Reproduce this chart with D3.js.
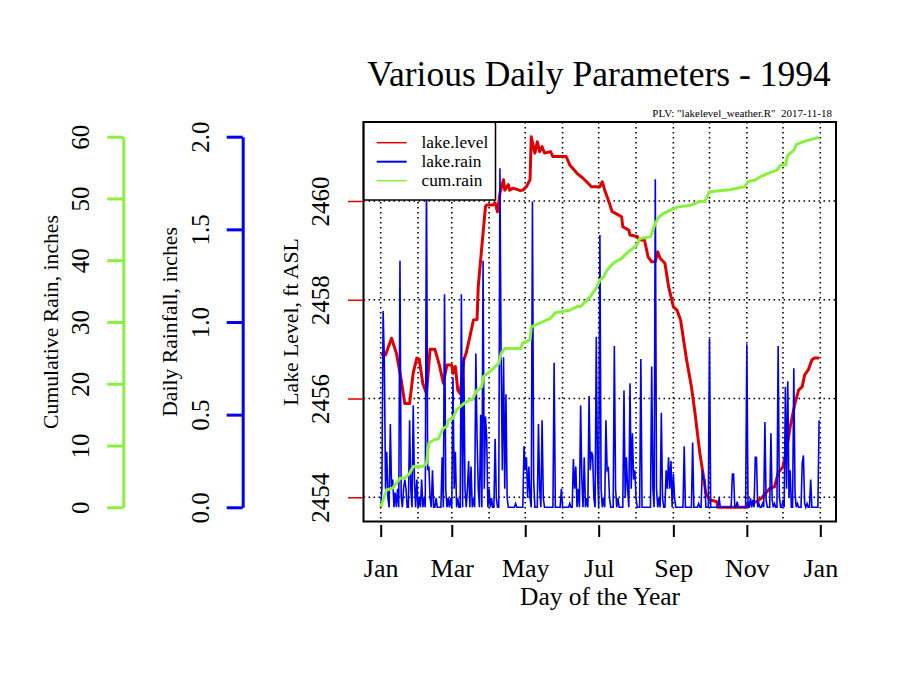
<!DOCTYPE html>
<html><head><meta charset="utf-8">
<script src="https://cdn.jsdelivr.net/npm/d3@7"></script>
<style>body{margin:0;background:#fff}</style>
</head><body>
<svg id="c" width="900" height="675"></svg>
<script>
// ---------------- DATA ----------------
const titleText = "Various Daily Parameters - 1994";
const subtitleText = 'PLV: "lakelevel_weather.R"  2017-11-18';
const xTickMonths = [0, 2, 4, 6, 8, 10, 12];
const xTickLabels = ["Jan", "Mar", "May", "Jul", "Sep", "Nov", "Jan"];
const gridMonths = [0,1,2,3,4,5,6,7,8,9,10,11,12];
const lakeTicks = [2454, 2456, 2458, 2460];
const rainTicks = [0, 0.5, 1, 1.5, 2];
const cumTicks = [0, 10, 20, 30, 40, 50, 60];
const legendLabels = ["lake.level", "lake.rain", "cum.rain"];
const xLabel = "Day of the Year";
const lakeLabel = "Lake Level, ft ASL";
const rainLabel = "Daily Rainfall, inches";
const cumLabel = "Cumulative Rain, inches";

// lake level: [day of year (0 = Jan 1), ft ASL]
const lakeLevel = [[0,2456.90],[4,2456.88],[9,2457.22],[13,2456.92],[17,2456.38],[20,2455.90],[24,2455.90],[27,2456.52],[30,2456.82],[32,2456.80],[35,2456.30],[38,2456.10],[41,2457.00],[45,2457.00],[49,2456.65],[52,2456.31],[55,2456.68],[59,2456.68],[60,2456.51],[62,2456.65],[64,2456.17],[66,2456.10],[69,2456.78],[71,2456.92],[74,2457.25],[77,2457.59],[80,2457.60],[81,2458.27],[84,2459.08],[87,2459.89],[88,2459.92],[93,2459.92],[95,2459.96],[97,2459.78],[99,2460.16],[102,2460.43],[103,2460.22],[106,2460.33],[107,2460.22],[110,2460.26],[116,2460.21],[118,2460.22],[121,2460.29],[124,2460.43],[125,2461.30],[128,2460.97],[130,2461.20],[132,2461.00],[134,2461.10],[136,2460.97],[141,2461.00],[143,2460.90],[154,2460.90],[157,2460.73],[163,2460.56],[168,2460.46],[171,2460.39],[175,2460.29],[182,2460.29],[184,2460.39],[186,2460.22],[190,2459.95],[192,2459.79],[195,2459.75],[200,2459.68],[201,2459.48],[206,2459.41],[207,2459.31],[213,2459.28],[215,2459.21],[219,2459.21],[222,2458.87],[225,2458.77],[228,2458.77],[230,2458.97],[232,2458.84],[236,2458.74],[239,2458.27],[243,2457.86],[246,2457.79],[249,2457.59],[254,2456.78],[258,2456.24],[261,2455.70],[265,2454.89],[268,2454.42],[270,2454.08],[273,2453.95],[279,2453.91],[280,2453.80],[304,2453.80],[305,2453.88],[312,2453.91],[316,2453.98],[323,2454.18],[327,2454.21],[330,2454.49],[334,2454.62],[337,2454.96],[340,2455.43],[344,2455.90],[347,2456.17],[350,2456.24],[352,2456.48],[355,2456.58],[358,2456.78],[360,2456.82],[364,2456.82]];

// daily rain on days with rain: [day, inches]; all other days are 0
const rainDays = [[1,0.1],[2,1.06],[3,0.8],[4,0.1],[5,0.3],[6,0.05],[8,0.45],[9,0.1],[10,0.15],[12,0.08],[14,0.1],[16,1.33],[17,0.06],[19,0.1],[20,0.15],[21,0.1],[24,0.47],[25,0.1],[27,0.55],[28,0.15],[30,0.15],[32,0.05],[34,0.15],[36,0.05],[38,1.8],[39,0.2],[40,0.22],[41,0.05],[43,0.2],[46,0.05],[51,0.27],[53,1.15],[54,0.1],[56,0.05],[58,0.05],[60,0.7],[61,0.1],[62,0.3],[64,0.05],[67,1.15],[69,0.81],[70,0.1],[72,0.1],[73,0.25],[75,0.22],[77,0.05],[79,0.83],[80,0.38],[81,0.1],[83,0.5],[85,1.33],[86,0.1],[87,0.49],[88,0.38],[90,0.1],[92,0.05],[95,0.37],[96,0.05],[99,1.83],[100,0.8],[101,0.2],[102,0.81],[103,0.1],[104,0.61],[105,0.05],[112,0.02],[119,0.33],[120,0.2],[121,0.27],[122,0.05],[123,0.22],[124,0.05],[126,1.65],[127,0.15],[131,0.45],[132,0.1],[134,0.47],[135,0.05],[144,0.78],[150,0.1],[157,0.02],[160,0.26],[161,0.1],[162,0.22],[164,0.1],[166,0.55],[167,0.15],[169,0.27],[171,0.05],[173,0.6],[174,0.2],[175,0.3],[176,0.28],[177,0.05],[179,0.92],[180,0.2],[182,1.47],[183,0.1],[185,0.05],[187,0.47],[188,0.2],[189,0.21],[190,0.05],[194,0.87],[195,0.1],[197,0.05],[202,0.63],[203,0.05],[204,0.27],[205,0.1],[207,0.67],[208,0.1],[209,0.4],[210,0.15],[211,0.2],[212,0.05],[216,0.8],[225,0.76],[226,0.1],[228,1.77],[229,0.1],[231,0.05],[233,0.51],[234,0.05],[237,0.2],[238,0.1],[239,0.27],[240,0.1],[241,0.25],[243,0.18],[244,0.05],[252,0.33],[259,0.35],[264,0.02],[267,0.2],[268,0.15],[269,0.15],[273,0.91],[281,0.05],[292,0.18],[293,0.18],[296,0.03],[304,0.88],[307,0.05],[309,0.04],[311,0.27],[312,0.27],[314,0.02],[317,0.02],[319,0.46],[320,0.04],[324,0.4],[325,0.04],[327,0.02],[330,0.87],[331,0.06],[334,0.04],[336,0.65],[337,0.1],[338,0.68],[339,0.05],[340,0.2],[343,0.75],[344,0.08],[346,0.02],[350,0.24],[351,0.28],[352,0.02],[354,0.02],[357,0.15],[364,0.47]];
const nDays = 365;

// cumulative rain: [day, inches]
const cumRain = [[0,0.1],[5,2.8],[10,3.1],[13,3.9],[16,4.7],[20,4.7],[24,5.5],[27,6.6],[35,6.6],[38,7.1],[40,10.4],[44,10.9],[48,11.1],[52,12.8],[55,13.1],[56,14.1],[60,14.4],[63,15.8],[66,16.3],[69,16.8],[74,17.4],[76,17.4],[80,19.0],[81,19.0],[84,19.5],[85,21.1],[92,22.2],[98,23.3],[100,24.9],[103,25.7],[116,25.7],[118,26.6],[124,27.1],[125,29.2],[132,29.8],[141,30.6],[145,31.5],[157,31.9],[163,32.5],[166,32.5],[170,33.3],[174,34.1],[179,35.5],[182,36.8],[185,37.3],[188,38.4],[193,39.5],[200,40.3],[204,41.1],[208,41.7],[213,42.5],[215,43.5],[224,43.8],[228,46.0],[231,47.0],[235,47.6],[246,48.6],[257,48.9],[265,49.5],[269,49.5],[273,51.1],[290,51.4],[302,51.9],[305,52.7],[311,53.0],[315,53.5],[322,54.1],[329,54.6],[332,55.4],[336,55.4],[338,57.0],[343,57.8],[345,58.7],[351,59.2],[364,59.9]];

// ---------------- CHART ----------------
const FONT = '"Liberation Serif","Times New Roman",Times,serif';
const RED = "#dd0000", BLUE = "#0000f0", GREEN = "#8af03f";
const svg = d3.select("#c").style("font-family", FONT);
const box = {l: 363.5, r: 836, t: 122, b: 521.5};
const day0 = Date.UTC(1994, 0, 1);
const toDate = d => new Date(day0 + d * 864e5);

const x = d3.scaleUtc().domain([toDate(0), toDate(365)]).range([380.7, 820.3]);
const yLake = d3.scaleLinear().domain([2454, 2460]).range([497.3, 201]);
const yRain = d3.scaleLinear().domain([0, 2]).range([507.3, 136.7]);
const yCum = d3.scaleLinear().domain([0, 60]).range([507.3, 136.7]);

// daily rain table (zero on days without rain)
const rainMap = new Map(rainDays);
const rainSeries = d3.range(nDays).map(d => [d, rainMap.get(d) || 0]);

svg.append("defs").append("clipPath").attr("id", "clip")
  .append("rect").attr("x", box.l).attr("y", box.t)
  .attr("width", box.r - box.l).attr("height", box.b - box.t);

// grid
const grid = svg.append("g").attr("stroke", "#000").attr("stroke-width", 1.6)
  .attr("stroke-dasharray", "1.6,3.4");
grid.selectAll(".vg").data(gridMonths).join("line")
  .attr("x1", m => x(new Date(Date.UTC(1994, m, 1))))
  .attr("x2", m => x(new Date(Date.UTC(1994, m, 1))))
  .attr("y1", box.t).attr("y2", box.b);
grid.selectAll(".hg").data(lakeTicks).join("line")
  .attr("x1", box.l).attr("x2", box.r)
  .attr("y1", d => yLake(d)).attr("y2", d => yLake(d));

const plot = svg.append("g").attr("clip-path", "url(#clip)");
plot.append("path").datum(lakeLevel)
  .attr("fill", "none").attr("stroke", RED).attr("stroke-width", 3).attr("stroke-linejoin", "round")
  .attr("d", d3.line().x(d => x(toDate(d[0]))).y(d => yLake(d[1])));
plot.append("path").datum(rainSeries)
  .attr("fill", "none").attr("stroke", BLUE).attr("stroke-width", 1.6)
  .attr("d", d3.line().x(d => x(toDate(d[0]))).y(d => yRain(d[1])));
plot.append("path").datum(cumRain)
  .attr("fill", "none").attr("stroke", GREEN).attr("stroke-width", 3).attr("stroke-linejoin", "round")
  .attr("d", d3.line().x(d => x(toDate(d[0]))).y(d => yCum(d[1])));

// legend
const lg = svg.append("g");
lg.append("rect").attr("x", box.l).attr("y", box.t).attr("width", 132).attr("height", 78)
  .attr("fill", "#fff").attr("stroke", "#000").attr("stroke-width", 1.5);
const legColors = [RED, BLUE, GREEN];
const legWidths = [1.5, 2, 1.5];
legendLabels.forEach((t, i) => {
  const yy = 142.7 + i * 19;
  lg.append("line").attr("x1", 376.7).attr("x2", 406.7).attr("y1", yy).attr("y2", yy)
    .attr("stroke", legColors[i]).attr("stroke-width", legWidths[i]);
  lg.append("text").attr("x", 421.5).attr("y", yy + 5.6).attr("font-size", 17.3).text(t);
});

// plot box
svg.append("rect").attr("x", box.l).attr("y", box.t).attr("width", box.r - box.l)
  .attr("height", box.b - box.t).attr("fill", "none").attr("stroke", "#000").attr("stroke-width", 2);

// x axis
const xa = svg.append("g").attr("transform", `translate(0,525)`)
  .call(d3.axisBottom(x).tickValues(xTickMonths.map(m => new Date(Date.UTC(1994, m, 1))))
    .tickSize(12).tickFormat((d, i) => xTickLabels[i]));
xa.select(".domain").remove();
xa.selectAll(".tick line").attr("stroke", "#000").attr("stroke-width", 2);
xa.selectAll(".tick text").attr("y", 51.5).attr("dy", 0).attr("font-size", 26)
  .attr("font-family", FONT).attr("fill", "#000");
svg.append("text").attr("x", 600).attr("y", 604.5).attr("text-anchor", "middle")
  .attr("font-size", 25.5).text(xLabel);

// left axes helper
function leftAxis(scale, ticks, fmt, xpos, color, size, width, withDomain, labelOff) {
  const g = svg.append("g").attr("transform", `translate(${xpos},0)`)
    .call(d3.axisLeft(scale).tickValues(ticks).tickFormat(fmt).tickSize(size).tickSizeOuter(0));
  if (withDomain) g.select(".domain").attr("stroke", color).attr("stroke-width", width);
  else g.select(".domain").remove();
  g.selectAll(".tick line").attr("stroke", color).attr("stroke-width", width);
  g.selectAll(".tick text").attr("transform", "rotate(-90)").attr("x", 0).attr("y", labelOff)
    .attr("dy", 0).attr("text-anchor", "middle").attr("font-size", 25)
    .attr("font-family", FONT).attr("fill", "#000");
  return g;
}
function yTitle(txt, bx) {
  svg.append("text").attr("transform", `translate(${bx},322) rotate(-90)`)
    .attr("text-anchor", "middle").attr("font-size", 21.7).text(txt);
}
leftAxis(yLake, lakeTicks, d3.format("d"), box.l, RED, 15.5, 1.5, false, -35);
yTitle(lakeLabel, 298);
leftAxis(yRain, rainTicks, d3.format(".1f"), 242.7, BLUE, 16, 3, true, -34.2);
yTitle(rainLabel, 176.5);
leftAxis(yCum, cumTicks, d3.format("d"), 123.3, GREEN, 16, 3, true, -34.8);
yTitle(cumLabel, 57.5);

// titles
svg.append("text").attr("x", 599).attr("y", 86).attr("text-anchor", "middle")
  .attr("font-size", 35.5).text(titleText);
svg.append("text").attr("x", 832).attr("y", 116.5).attr("text-anchor", "end")
  .attr("font-size", 11).style("white-space", "pre").text(subtitleText);
</script>
</body></html>
